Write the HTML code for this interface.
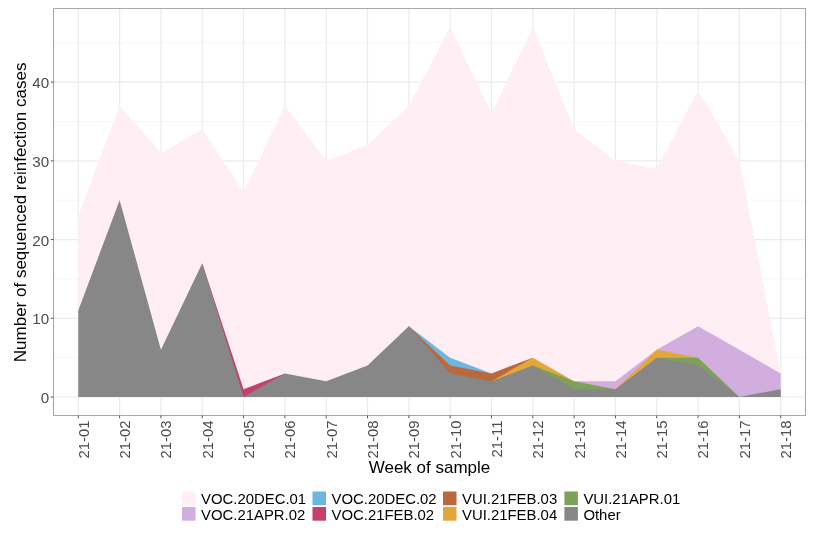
<!DOCTYPE html>
<html><head><meta charset="utf-8"><style>
html,body{margin:0;padding:0;background:#fff;}
svg{display:block;will-change:transform;}
text{font-family:"Liberation Sans",sans-serif;}
.tk{font-size:14.9px;fill:#4D4D4D;}
.tky{font-size:15.2px;fill:#4D4D4D;}
.lg{font-size:14.9px;fill:#000;}
.ti{font-size:17px;fill:#000;}
</style></head><body>
<svg width="821" height="545" viewBox="0 0 821 545">
<rect width="821" height="545" fill="#fff"/>
<line x1="53.50" x2="805.50" y1="357.64" y2="357.64" stroke="#F4F4F4" stroke-width="0.8"/>
<line x1="53.50" x2="805.50" y1="278.91" y2="278.91" stroke="#F4F4F4" stroke-width="0.8"/>
<line x1="53.50" x2="805.50" y1="200.19" y2="200.19" stroke="#F4F4F4" stroke-width="0.8"/>
<line x1="53.50" x2="805.50" y1="121.47" y2="121.47" stroke="#F4F4F4" stroke-width="0.8"/>
<line x1="53.50" x2="805.50" y1="42.74" y2="42.74" stroke="#F4F4F4" stroke-width="0.8"/>
<line x1="53.50" x2="805.50" y1="397.00" y2="397.00" stroke="#EBEBEB" stroke-width="1.2"/>
<line x1="53.50" x2="805.50" y1="318.28" y2="318.28" stroke="#EBEBEB" stroke-width="1.2"/>
<line x1="53.50" x2="805.50" y1="239.55" y2="239.55" stroke="#EBEBEB" stroke-width="1.2"/>
<line x1="53.50" x2="805.50" y1="160.83" y2="160.83" stroke="#EBEBEB" stroke-width="1.2"/>
<line x1="53.50" x2="805.50" y1="82.11" y2="82.11" stroke="#EBEBEB" stroke-width="1.2"/>
<line x1="78.29" x2="78.29" y1="8.50" y2="415.50" stroke="#EBEBEB" stroke-width="1.2"/>
<line x1="119.61" x2="119.61" y1="8.50" y2="415.50" stroke="#EBEBEB" stroke-width="1.2"/>
<line x1="160.93" x2="160.93" y1="8.50" y2="415.50" stroke="#EBEBEB" stroke-width="1.2"/>
<line x1="202.25" x2="202.25" y1="8.50" y2="415.50" stroke="#EBEBEB" stroke-width="1.2"/>
<line x1="243.57" x2="243.57" y1="8.50" y2="415.50" stroke="#EBEBEB" stroke-width="1.2"/>
<line x1="284.88" x2="284.88" y1="8.50" y2="415.50" stroke="#EBEBEB" stroke-width="1.2"/>
<line x1="326.20" x2="326.20" y1="8.50" y2="415.50" stroke="#EBEBEB" stroke-width="1.2"/>
<line x1="367.52" x2="367.52" y1="8.50" y2="415.50" stroke="#EBEBEB" stroke-width="1.2"/>
<line x1="408.84" x2="408.84" y1="8.50" y2="415.50" stroke="#EBEBEB" stroke-width="1.2"/>
<line x1="450.16" x2="450.16" y1="8.50" y2="415.50" stroke="#EBEBEB" stroke-width="1.2"/>
<line x1="491.48" x2="491.48" y1="8.50" y2="415.50" stroke="#EBEBEB" stroke-width="1.2"/>
<line x1="532.80" x2="532.80" y1="8.50" y2="415.50" stroke="#EBEBEB" stroke-width="1.2"/>
<line x1="574.12" x2="574.12" y1="8.50" y2="415.50" stroke="#EBEBEB" stroke-width="1.2"/>
<line x1="615.43" x2="615.43" y1="8.50" y2="415.50" stroke="#EBEBEB" stroke-width="1.2"/>
<line x1="656.75" x2="656.75" y1="8.50" y2="415.50" stroke="#EBEBEB" stroke-width="1.2"/>
<line x1="698.07" x2="698.07" y1="8.50" y2="415.50" stroke="#EBEBEB" stroke-width="1.2"/>
<line x1="739.39" x2="739.39" y1="8.50" y2="415.50" stroke="#EBEBEB" stroke-width="1.2"/>
<line x1="780.71" x2="780.71" y1="8.50" y2="415.50" stroke="#EBEBEB" stroke-width="1.2"/>
<path d="M78.29,215.94 L119.61,105.72 L160.93,152.96 L202.25,129.34 L243.57,192.32 L284.88,105.72 L326.20,160.83 L367.52,145.09 L408.84,105.72 L450.16,27.00 L491.48,113.60 L532.80,27.00 L574.12,129.34 L615.43,160.83 L656.75,168.70 L698.07,89.98 L739.39,160.83 L780.71,373.38 L780.71,397.00 L739.39,397.00 L698.07,397.00 L656.75,397.00 L615.43,397.00 L574.12,397.00 L532.80,397.00 L491.48,397.00 L450.16,397.00 L408.84,397.00 L367.52,397.00 L326.20,397.00 L284.88,397.00 L243.57,397.00 L202.25,397.00 L160.93,397.00 L119.61,397.00 L78.29,397.00 Z" fill="#FFEFF4"/>
<path d="M574.12,381.26 L615.43,381.26 L656.75,349.77 L698.07,326.15 L739.39,349.77 L780.71,373.38 L780.71,397.00 L739.39,397.00 L698.07,397.00 L656.75,397.00 L615.43,397.00 L574.12,397.00 Z" fill="#D2AEDE"/>
<path d="M408.84,326.15 L450.16,357.64 L491.48,373.38 L491.48,397.00 L450.16,397.00 L408.84,397.00 Z" fill="#6EB6E2"/>
<path d="M202.25,263.17 L243.57,389.13 L284.88,373.38 L284.88,397.00 L243.57,397.00 L202.25,397.00 Z" fill="#C4406F"/>
<path d="M408.84,326.15 L450.16,365.51 L491.48,373.38 L532.80,357.64 L532.80,397.00 L491.48,397.00 L450.16,397.00 L408.84,397.00 Z" fill="#B9693C"/>
<path d="M491.48,381.26 L532.80,357.64 L574.12,381.26 L574.12,397.00 L532.80,397.00 L491.48,397.00 Z M615.43,389.13 L656.75,349.77 L698.07,357.64 L698.07,397.00 L656.75,397.00 L615.43,397.00 Z" fill="#E3A739"/>
<path d="M532.80,365.51 L574.12,381.26 L615.43,389.13 L615.43,397.00 L574.12,397.00 L532.80,397.00 Z M656.75,357.64 L698.07,357.64 L739.39,397.00 L739.39,397.00 L698.07,397.00 L656.75,397.00 Z" fill="#7DA05A"/>
<path d="M78.29,310.40 L119.61,200.19 L160.93,349.77 L202.25,263.17 L243.57,397.00 L284.88,373.38 L326.20,381.26 L367.52,365.51 L408.84,326.15 L450.16,373.38 L491.48,381.26 L532.80,365.51 L574.12,389.13 L615.43,389.13 L656.75,357.64 L698.07,365.51 L739.39,397.00 L780.71,389.13 L780.71,397.00 L739.39,397.00 L698.07,397.00 L656.75,397.00 L615.43,397.00 L574.12,397.00 L532.80,397.00 L491.48,397.00 L450.16,397.00 L408.84,397.00 L367.52,397.00 L326.20,397.00 L284.88,397.00 L243.57,397.00 L202.25,397.00 L160.93,397.00 L119.61,397.00 L78.29,397.00 Z" fill="#878787"/>
<rect x="53.50" y="8.50" width="752.00" height="407.00" fill="none" stroke="#A8A8A8" stroke-width="1.1" stroke-linejoin="round"/>
<line x1="50.8" x2="53.50" y1="397.00" y2="397.00" stroke="#555" stroke-width="1"/>
<text x="49.2" y="403.00" text-anchor="end" class="tky">0</text>
<line x1="50.8" x2="53.50" y1="318.28" y2="318.28" stroke="#555" stroke-width="1"/>
<text x="49.2" y="324.28" text-anchor="end" class="tky">10</text>
<line x1="50.8" x2="53.50" y1="239.55" y2="239.55" stroke="#555" stroke-width="1"/>
<text x="49.2" y="245.55" text-anchor="end" class="tky">20</text>
<line x1="50.8" x2="53.50" y1="160.83" y2="160.83" stroke="#555" stroke-width="1"/>
<text x="49.2" y="166.83" text-anchor="end" class="tky">30</text>
<line x1="50.8" x2="53.50" y1="82.11" y2="82.11" stroke="#555" stroke-width="1"/>
<text x="49.2" y="88.11" text-anchor="end" class="tky">40</text>
<line x1="78.29" x2="78.29" y1="415.50" y2="418.3" stroke="#555" stroke-width="1"/>
<line x1="119.61" x2="119.61" y1="415.50" y2="418.3" stroke="#555" stroke-width="1"/>
<line x1="160.93" x2="160.93" y1="415.50" y2="418.3" stroke="#555" stroke-width="1"/>
<line x1="202.25" x2="202.25" y1="415.50" y2="418.3" stroke="#555" stroke-width="1"/>
<line x1="243.57" x2="243.57" y1="415.50" y2="418.3" stroke="#555" stroke-width="1"/>
<line x1="284.88" x2="284.88" y1="415.50" y2="418.3" stroke="#555" stroke-width="1"/>
<line x1="326.20" x2="326.20" y1="415.50" y2="418.3" stroke="#555" stroke-width="1"/>
<line x1="367.52" x2="367.52" y1="415.50" y2="418.3" stroke="#555" stroke-width="1"/>
<line x1="408.84" x2="408.84" y1="415.50" y2="418.3" stroke="#555" stroke-width="1"/>
<line x1="450.16" x2="450.16" y1="415.50" y2="418.3" stroke="#555" stroke-width="1"/>
<line x1="491.48" x2="491.48" y1="415.50" y2="418.3" stroke="#555" stroke-width="1"/>
<line x1="532.80" x2="532.80" y1="415.50" y2="418.3" stroke="#555" stroke-width="1"/>
<line x1="574.12" x2="574.12" y1="415.50" y2="418.3" stroke="#555" stroke-width="1"/>
<line x1="615.43" x2="615.43" y1="415.50" y2="418.3" stroke="#555" stroke-width="1"/>
<line x1="656.75" x2="656.75" y1="415.50" y2="418.3" stroke="#555" stroke-width="1"/>
<line x1="698.07" x2="698.07" y1="415.50" y2="418.3" stroke="#555" stroke-width="1"/>
<line x1="739.39" x2="739.39" y1="415.50" y2="418.3" stroke="#555" stroke-width="1"/>
<line x1="780.71" x2="780.71" y1="415.50" y2="418.3" stroke="#555" stroke-width="1"/>
<text transform="translate(88.69,420.5) rotate(-90)" text-anchor="end" class="tk">21-01</text>
<text transform="translate(130.01,420.5) rotate(-90)" text-anchor="end" class="tk">21-02</text>
<text transform="translate(171.33,420.5) rotate(-90)" text-anchor="end" class="tk">21-03</text>
<text transform="translate(212.65,420.5) rotate(-90)" text-anchor="end" class="tk">21-04</text>
<text transform="translate(253.97,420.5) rotate(-90)" text-anchor="end" class="tk">21-05</text>
<text transform="translate(295.28,420.5) rotate(-90)" text-anchor="end" class="tk">21-06</text>
<text transform="translate(336.60,420.5) rotate(-90)" text-anchor="end" class="tk">21-07</text>
<text transform="translate(377.92,420.5) rotate(-90)" text-anchor="end" class="tk">21-08</text>
<text transform="translate(419.24,420.5) rotate(-90)" text-anchor="end" class="tk">21-09</text>
<text transform="translate(460.56,420.5) rotate(-90)" text-anchor="end" class="tk">21-10</text>
<text transform="translate(501.88,420.5) rotate(-90)" text-anchor="end" class="tk">21-11</text>
<text transform="translate(543.20,420.5) rotate(-90)" text-anchor="end" class="tk">21-12</text>
<text transform="translate(584.52,420.5) rotate(-90)" text-anchor="end" class="tk">21-13</text>
<text transform="translate(625.83,420.5) rotate(-90)" text-anchor="end" class="tk">21-14</text>
<text transform="translate(667.15,420.5) rotate(-90)" text-anchor="end" class="tk">21-15</text>
<text transform="translate(708.47,420.5) rotate(-90)" text-anchor="end" class="tk">21-16</text>
<text transform="translate(749.79,420.5) rotate(-90)" text-anchor="end" class="tk">21-17</text>
<text transform="translate(791.11,420.5) rotate(-90)" text-anchor="end" class="tk">21-18</text>
<text x="429.5" y="473" text-anchor="middle" class="ti">Week of sample</text>
<text transform="translate(26,212.4) rotate(-90)" text-anchor="middle" class="ti">Number of sequenced reinfection cases</text>
<rect x="182.00" y="491.50" width="13.5" height="13.7" fill="#FFEFF4"/>
<text x="201.00" y="504.10" class="lg">VOC.20DEC.01</text>
<rect x="182.00" y="507.00" width="13.5" height="13.7" fill="#D2AEDE"/>
<text x="201.00" y="519.60" class="lg">VOC.21APR.02</text>
<rect x="312.50" y="491.50" width="13.5" height="13.7" fill="#6EB6E2"/>
<text x="331.50" y="504.10" class="lg">VOC.20DEC.02</text>
<rect x="312.50" y="507.00" width="13.5" height="13.7" fill="#C4406F"/>
<text x="331.50" y="519.60" class="lg">VOC.21FEB.02</text>
<rect x="443.00" y="491.50" width="13.5" height="13.7" fill="#B9693C"/>
<text x="462.00" y="504.10" class="lg">VUI.21FEB.03</text>
<rect x="443.00" y="507.00" width="13.5" height="13.7" fill="#E3A739"/>
<text x="462.00" y="519.60" class="lg">VUI.21FEB.04</text>
<rect x="564.40" y="491.50" width="13.5" height="13.7" fill="#7DA05A"/>
<text x="583.40" y="504.10" class="lg">VUI.21APR.01</text>
<rect x="564.40" y="507.00" width="13.5" height="13.7" fill="#878787"/>
<text x="583.40" y="519.60" class="lg">Other</text>
</svg>
</body></html>
